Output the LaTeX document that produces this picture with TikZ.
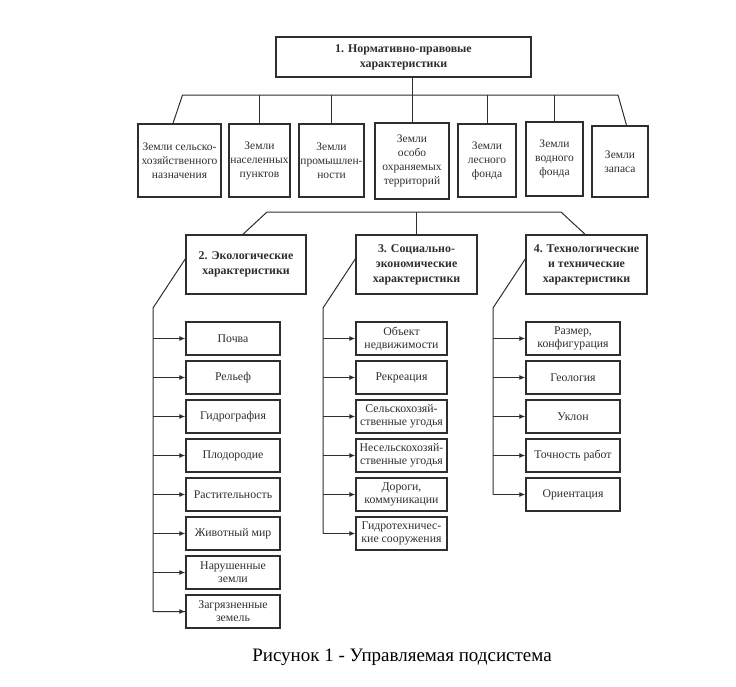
\documentclass[tikz,border=0pt]{standalone}
\usepackage{fontspec}
\setmainfont{Liberation Serif}
\usetikzlibrary{arrows.meta}
\definecolor{ink}{gray}{0.18}
\tikzset{
  box/.style={draw=ink, line width=1.5pt, inner sep=0pt, align=center, font=\fontsize{11.5}{14}\selectfont, text=ink},
  cbox/.style={box, font=\fontsize{11.8}{13}\selectfont},
  hbox/.style={box, font=\fontsize{11.9}{15}\selectfont\bfseries},
  conn/.style={draw=ink, line width=1pt},
  arr/.style={conn, -{Latex[length=6pt,width=5pt]}}
}
\begin{document}
\begin{tikzpicture}[x=1pt,y=-1pt]
\useasboundingbox (0,0) rectangle (736,686);
% top header
\node[hbox, minimum width=255pt, minimum height=40pt] (top) at (403.5,57) {1. Нормативно-правовые\\характеристики};
% row of land categories
\node[box, minimum width=83pt, minimum height=73pt] (b1) at (179.5,160.5) {Земли сельско-\\хозяйственного\\назначения};
\node[box, minimum width=61pt, minimum height=73pt] (b2) at (259.5,160.5) {Земли\\населенных\\пунктов};
\node[box, minimum width=65pt, minimum height=73pt] (b3) at (331.5,160.5) {Земли\\промышлен-\\ности};
\node[box, minimum width=74pt, minimum height=76pt] (b4) at (412,161) {Земли\\особо\\охраняемых\\территорий};
\node[box, minimum width=58pt, minimum height=73pt] (b5) at (487,160.5) {Земли\\лесного\\фонда};
\node[box, minimum width=57pt, minimum height=74pt] (b6) at (554.5,159) {Земли\\водного\\фонда};
\node[box, minimum width=56pt, minimum height=71pt] (b7) at (620,161.5) {Земли\\запаса};
\coordinate (barL) at (182.5,95);
\coordinate (barR) at (618,95);
\draw[conn] ([xshift=-6.5pt]b1.north) -- (barL) -- (barR) -- ([xshift=6.5pt]b7.north);
\draw[conn] (b4.north |- top.south) -- (b4.north);
\foreach \n in {b2,b3,b5,b6} \draw[conn] (\n.north) -- (\n.north |- barL);
% second-level headers
\node[hbox, minimum width=120pt, minimum height=59pt] (h2) at (246,264.5) {2. Экологические\\характеристики};
\node[hbox, minimum width=121pt, minimum height=59pt] (h3) at (416.5,264.5) {3. Социально-\\экономические\\характеристики};
\node[hbox, minimum width=121pt, minimum height=59pt] (h4) at (586.5,264.5) {4. Технологические\\и технические\\характеристики};
\coordinate (bar2L) at (267,212);
\coordinate (bar2R) at (561,212);
\draw[conn] ([xshift=-3pt]h2.north) -- (bar2L) -- (bar2R) -- ([xshift=-1.5pt]h4.north);
\draw[conn] (h3.north) -- (h3.north |- bar2L);
% column 1
\foreach \t [count=\i] in {{Почва},{Рельеф},{Гидрография},{Плодородие},{Растительность},{Животный мир},{Нарушенные\\земли},{Загрязненные\\земель}}
  \node[cbox, minimum width=94pt, minimum height=33pt] (e\i) at (233,{338.5+39*(\i-1)}) {\t};
\coordinate (s1) at (153,308);
\draw[conn] ([yshift=5.5pt]h2.west) -- (s1) -- (s1 |- e8.west) -- (e8.west);
\foreach \i in {1,...,8} \draw[arr] (s1 |- e\i.west) -- (e\i.west);
% column 2
\foreach \t [count=\i] in {{Объект\\недвижимости},{Рекреация},{Сельскохозяй-\\ственные угодья},{Несельскохозяй-\\ственные угодья},{Дороги,\\коммуникации},{Гидротехничес-\\кие сооружения}}
  \node[cbox, minimum width=91pt, minimum height=33pt] (c\i) at (401.5,{338.5+39*(\i-1)}) {\t};
\coordinate (s2) at (323,308);
\draw[conn] ([yshift=5.5pt]h3.west) -- (s2) -- (s2 |- c6.west);
\foreach \i in {1,...,6} \draw[arr] (s2 |- c\i.west) -- (c\i.west);
% column 3
\foreach \t [count=\i] in {{Размер,\\конфигурация},{Геология},{Уклон},{Точность работ},{Ориентация}}
  \node[cbox, minimum width=94pt, minimum height=33pt] (t\i) at (573,{338.5+39*(\i-1)}) {\t};
\coordinate (s3) at (493,308);
\draw[conn] ([yshift=5.5pt]h4.west) -- (s3) -- (s3 |- t5.west);
\foreach \i in {1,...,5} \draw[arr] (s3 |- t\i.west) -- (t\i.west);
% caption
\node[font=\fontsize{19}{22}\selectfont, inner sep=0pt] (cap) at (402,657) {Рисунок 1 - Управляемая подсистема};
\end{tikzpicture}
\end{document}
